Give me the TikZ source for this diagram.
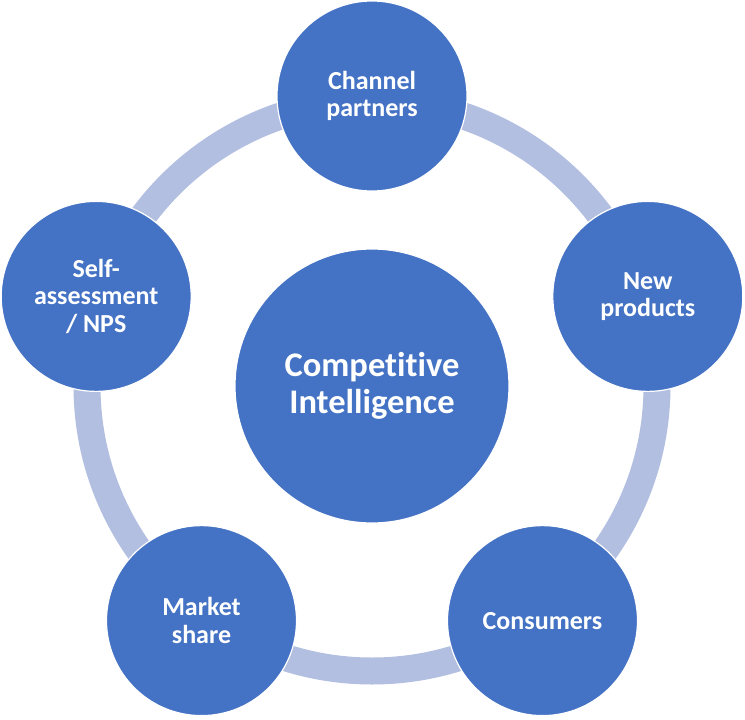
\documentclass[tikz,border=0pt]{standalone}
\usepackage{fontspec}
\setmainfont{Carlito}[RawFeature=-liga]
\definecolor{cblue}{HTML}{4472C4}
\definecolor{ringblue}{RGB}{178,191,224}
\begin{document}
\begin{tikzpicture}[x=1pt,y=-1pt,
  outer/.style={circle,fill=cblue,draw=white,line width=1.2pt,minimum size=190pt,inner sep=0pt,
    text=white,align=center,font=\fontsize{26}{27.5}\selectfont\bfseries},
  hub/.style={circle,fill=cblue,draw=white,line width=1.2pt,minimum size=274pt,inner sep=0pt,
    text=white,align=center,font=\fontsize{34.5}{37}\selectfont\bfseries},
  ring/.style={draw=ringblue,line width=27pt}]
\useasboundingbox (0,0) rectangle (745,720);
\coordinate (c) at (372,386);
\draw[ring] (c) circle[radius=285pt];
\node[hub] (ci) at (c) {Competitive\\Intelligence};
\node[outer] (cp) at (372,96) {Channel\\partners};
\node[outer] (np) at (647.8,296.4) {New\\products};
\node[outer] (co) at (542.5,620.6) {Consumers};
\node[outer] (ms) at (201.5,620.6) {Market\\share};
\node[outer] (sa) at (96.2,296.4) {Self-\\assessment\\/ NPS};
\end{tikzpicture}
\end{document}
